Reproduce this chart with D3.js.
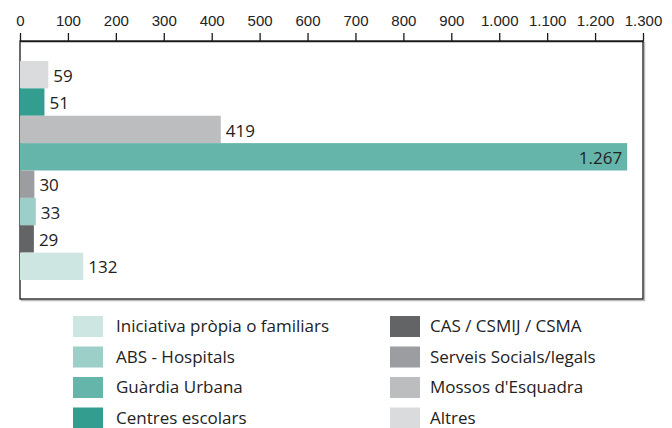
<!DOCTYPE html>
<html>
<head>
<meta charset="utf-8">
<script src="https://cdn.jsdelivr.net/npm/d3@7"></script>
<style>
  body { margin: 0; background: #fff; }
  svg { font-family: "Open Sans", sans-serif; }
  .axis path, .axis line { stroke: #1a1a1a; stroke-width: 1.3; }
  .axis text { font-size: 15px; fill: #222; }
</style>
</head>
<body>
<svg width="672" height="428"></svg>
<script>
// DATA
var categories = ["Altres", "Centres escolars", "Mossos d'Esquadra", "Guàrdia Urbana",
                  "Serveis Socials/legals", "ABS - Hospitals", "CAS / CSMIJ / CSMA",
                  "Iniciativa pròpia o familiars"];
var values = [59, 51, 419, 1267, 30, 33, 29, 132];
var colorList = ["#dadbdc", "#339e8f", "#bcbdbe", "#66b5ab", "#9c9da1", "#9bcfc8", "#636466", "#cde6e2"];
var tickValues = [0, 100, 200, 300, 400, 500, 600, 700, 800, 900, 1000, 1100, 1200, 1300];
var legendLeft = ["Iniciativa pròpia o familiars", "ABS - Hospitals", "Guàrdia Urbana", "Centres escolars"];
var legendRight = ["CAS / CSMIJ / CSMA", "Serveis Socials/legals", "Mossos d'Esquadra", "Altres"];

// SETUP
var svg = d3.select("svg"),
    frame = { left: 20, right: 643, top: 41, bottom: 299 };

var locale = d3.formatLocale({ decimal: ",", thousands: ".", grouping: [3], currency: ["", "€"] });
var fmt = locale.format(",d");

var x = d3.scaleLinear().domain([0, 1300]).range([frame.left, frame.right]);
var y = d3.scaleBand().domain(categories).range([61, 280]).padding(0);
var color = d3.scaleOrdinal().domain(categories).range(colorList);

// frame shadow + frame
svg.append("rect")
  .attr("x", frame.left + 1.5).attr("y", frame.top + 1.5)
  .attr("width", frame.right - frame.left).attr("height", frame.bottom - frame.top)
  .attr("fill", "none").attr("stroke", "#bbb").attr("stroke-width", 1.5);
svg.append("rect")
  .attr("x", frame.left).attr("y", frame.top)
  .attr("width", frame.right - frame.left).attr("height", frame.bottom - frame.top)
  .attr("fill", "#fff").attr("stroke", "#1a1a1a").attr("stroke-width", 1.3);

// bars
svg.selectAll(".bar")
  .data(categories)
  .enter().append("rect")
  .attr("class", "bar")
  .attr("x", x(0))
  .attr("y", function (d) { return y(d); })
  .attr("width", function (d, i) { return x(values[i]) - x(0); })
  .attr("height", y.bandwidth())
  .attr("fill", function (d) { return color(d); });

// value labels
svg.selectAll(".val")
  .data(categories)
  .enter().append("text")
  .attr("class", "val")
  .attr("x", function (d, i) { return values[i] > 1000 ? x(values[i]) - 5 : x(values[i]) + 5; })
  .attr("y", function (d) { return y(d) + y.bandwidth() / 2 + 1; })
  .attr("dy", "0.36em")
  .attr("text-anchor", function (d, i) { return values[i] > 1000 ? "end" : "start"; })
  .style("font-size", "17px")
  .style("fill", "#222")
  .text(function (d, i) { return fmt(values[i]); });

// axis on top
svg.append("g")
  .attr("class", "axis")
  .attr("transform", "translate(0," + frame.top + ")")
  .call(d3.axisTop(x).tickValues(tickValues).tickFormat(fmt).tickSize(8).tickSizeOuter(0).tickPadding(7));

// legend
function legendColumn(items, sx, tx) {
  var g = svg.append("g");
  var rows = g.selectAll("g").data(items).enter().append("g")
    .attr("transform", function (d, i) { return "translate(0," + (326 + i * 30.5) + ")"; });
  rows.append("rect")
    .attr("x", sx).attr("y", -10).attr("width", 30).attr("height", 21)
    .attr("fill", function (d) { return color(d); });
  rows.append("text")
    .attr("x", tx).attr("dy", "0.36em")
    .style("font-size", "17px").style("fill", "#222")
    .text(function (d) { return d; });
}
legendColumn(legendLeft, 73, 116);
legendColumn(legendRight, 390, 430);
</script>
</body>
</html>
